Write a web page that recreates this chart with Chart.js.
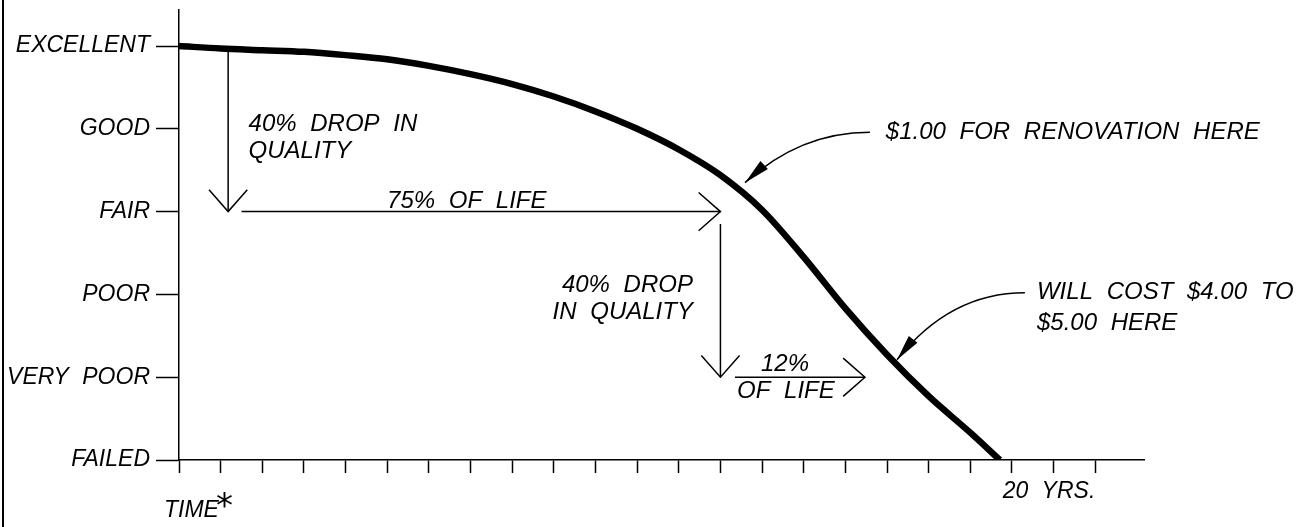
<!DOCTYPE html>
<html>
<head>
<meta charset="utf-8">
<script src="https://cdn.jsdelivr.net/npm/chart.js@4.4.1/dist/chart.umd.min.js"></script>
<style>
  html, body { margin: 0; padding: 0; background: #fff; }
</style>
</head>
<body>
<canvas id="lifeChart" width="1307" height="527"></canvas>
<script>
// condition scale, bottom to top
var conditionLabels = ['FAILED', 'VERY POOR', 'POOR', 'FAIR', 'GOOD', 'EXCELLENT'];

// pavement condition curve, one reading per year
var years     = [0, 1, 2, 3, 4, 5, 6, 7, 8, 9, 10, 11, 12, 13, 14, 15, 16, 17, 18, 19, 19.71];
var condition = [5.0, 4.97, 4.95, 4.93, 4.89, 4.84, 4.76, 4.66, 4.54, 4.39, 4.21, 4.00, 3.75, 3.44, 3.02, 2.45, 1.83, 1.27, 0.77, 0.33, 0];

var yearLabelAt = 20;
var yearLabel = '20 YRS.';

var FONT = 'italic 24px "Liberation Sans", Arial, sans-serif';
var WORD_GAP = '7px';

function openHead(ctx, tx, ty, ang) {
    var len = 29, spread = 0.72;
    ctx.beginPath();
    ctx.moveTo(tx - len * Math.cos(ang - spread), ty - len * Math.sin(ang - spread));
    ctx.lineTo(tx, ty);
    ctx.lineTo(tx - len * Math.cos(ang + spread), ty - len * Math.sin(ang + spread));
    ctx.stroke();
}

function filledHead(ctx, tx, ty, ang) {
    var len = 26, half = 5.5;
    var bx = tx - len * Math.cos(ang), by = ty - len * Math.sin(ang);
    ctx.beginPath();
    ctx.moveTo(tx, ty);
    ctx.lineTo(bx + half * Math.sin(ang), by - half * Math.cos(ang));
    ctx.lineTo(bx - half * Math.sin(ang), by + half * Math.cos(ang));
    ctx.closePath();
    ctx.fill();
}

var notes = {
    id: 'notes',
    beforeDraw: function (chart) {
        chart.ctx.wordSpacing = WORD_GAP;
    },
    afterDraw: function (chart) {
        var ctx = chart.ctx;
        var xs = chart.scales.x, ys = chart.scales.y;
        var X = function (v) { return xs.getPixelForValue(v); };
        var Y = function (v) { return ys.getPixelForValue(v); };

        ctx.save();
        ctx.wordSpacing = WORD_GAP;
        ctx.strokeStyle = '#000';
        ctx.fillStyle = '#000';

        // left frame line
        ctx.lineWidth = 2;
        ctx.beginPath();
        ctx.moveTo(3, 0);
        ctx.lineTo(3, chart.height);
        ctx.stroke();
        ctx.lineWidth = 1.5;

        // first drop: excellent -> fair
        ctx.beginPath();
        ctx.moveTo(X(1.18), Y(4.93));
        ctx.lineTo(X(1.18), Y(3.0));
        ctx.stroke();
        openHead(ctx, X(1.18), Y(3.0), Math.PI / 2);

        ctx.beginPath();
        ctx.moveTo(X(1.5), Y(3.0));
        ctx.lineTo(X(13.0), Y(3.0));
        ctx.stroke();
        openHead(ctx, X(13.0), Y(3.0), 0);

        // second drop: fair -> very poor
        ctx.beginPath();
        ctx.moveTo(X(13.0), Y(2.85));
        ctx.lineTo(X(13.0), Y(1.0));
        ctx.stroke();
        openHead(ctx, X(13.0), Y(1.0), Math.PI / 2);

        ctx.beginPath();
        ctx.moveTo(X(13.35), Y(1.0));
        ctx.lineTo(X(16.47), Y(1.0));
        ctx.stroke();
        openHead(ctx, X(16.47), Y(1.0), 0);

        ctx.font = FONT;
        ctx.textBaseline = 'middle';

        ctx.textAlign = 'left';
        ctx.fillText('40% DROP IN', X(1.67), Y(4.06));
        ctx.fillText('QUALITY', X(1.67), Y(3.73));

        ctx.textAlign = 'center';
        ctx.fillText('75% OF LIFE', X(6.91), Y(3.12));

        ctx.textAlign = 'right';
        ctx.fillText('40% DROP', X(12.34), Y(2.11));
        ctx.fillText('IN QUALITY', X(12.34), Y(1.78));

        ctx.textAlign = 'center';
        ctx.fillText('12%', X(14.55), Y(1.16));
        ctx.textAlign = 'left';
        ctx.fillText('OF LIFE', X(13.4), Y(0.83));

        // callouts with curved leaders
        ctx.fillText('$1.00 FOR RENOVATION HERE', X(16.97), Y(3.96));
        ctx.fillText('WILL COST $4.00 TO', X(20.6), Y(2.02));
        ctx.fillText('$5.00 HERE', X(20.6), Y(1.65));

        var leaders = [
            [16.59, 3.96, 14.91, 3.96, 13.59, 3.35],
            [20.31, 2.02, 18.51, 2.02, 17.24, 1.21]
        ];
        leaders.forEach(function (l) {
            var sx = X(l[0]), sy = Y(l[1]), cx = X(l[2]), cy = Y(l[3]), tx = X(l[4]), ty = Y(l[5]);
            ctx.beginPath();
            ctx.moveTo(sx, sy);
            ctx.quadraticCurveTo(cx, cy, tx, ty);
            ctx.stroke();
            filledHead(ctx, tx, ty, Math.atan2(ty - cy, tx - cx));
        });

        // time axis title
        var x0 = X(0);
        ctx.textAlign = 'left';
        ctx.font = 'italic 23px "Liberation Sans", Arial, sans-serif';
        ctx.fillText('TIME', x0 - 15, 511);
        ctx.font = '34px "DejaVu Sans", sans-serif';
        ctx.fillText('*', x0 + 37, 508);

        ctx.restore();
    }
};

var points = years.map(function (t, i) { return { x: t, y: condition[i] }; });

function keepWhole(s) {
    s.ticks = s.ticks.filter(function (t) { return Math.abs(t.value - Math.round(t.value)) < 1e-6; });
}

var lifeChart = new Chart(document.getElementById('lifeChart'), {
    type: 'line',
    data: {
        datasets: [{
            data: points,
            borderColor: '#000',
            borderWidth: 6.5,
            pointRadius: 0,
            cubicInterpolationMode: 'monotone',
            fill: false
        }]
    },
    options: {
        responsive: false,
        animation: false,
        layout: { padding: { top: 10, right: 163, left: 0, bottom: 0 } },
        plugins: { legend: { display: false }, tooltip: { enabled: false } },
        scales: {
            x: {
                type: 'linear',
                min: 0,
                max: 23.17,
                afterBuildTicks: keepWhole,
                afterFit: function (s) { s.height = 67; s.paddingLeft = 0; s.paddingRight = 0; },
                border: { display: true, color: '#000', width: 1.5 },
                grid: { drawOnChartArea: false, drawTicks: true, tickLength: 13, tickColor: '#000', tickWidth: 1.5 },
                ticks: {
                    stepSize: 1,
                    autoSkip: false,
                    maxRotation: 0,
                    padding: 5,
                    labelOffset: 37,
                    color: '#000',
                    font: { family: '"Liberation Sans", Arial, sans-serif', size: 23, style: 'italic' },
                    callback: function (v) { return v === yearLabelAt ? yearLabel : ''; }
                }
            },
            y: {
                type: 'linear',
                min: 0,
                max: 5.435,
                afterBuildTicks: keepWhole,
                afterFit: function (s) { s.width = 179; s.paddingTop = 0; s.paddingBottom = 0; },
                border: { display: true, color: '#000', width: 1.5 },
                grid: { drawOnChartArea: false, drawTicks: true, tickLength: 23, tickColor: '#000', tickWidth: 1.5 },
                ticks: {
                    stepSize: 1,
                    padding: 6,
                    color: '#000',
                    font: { family: '"Liberation Sans", Arial, sans-serif', size: 23, style: 'italic' },
                    callback: function (v) { return conditionLabels[v] || ''; }
                }
            }
        }
    },
    plugins: [notes]
});
</script>
</body>
</html>
